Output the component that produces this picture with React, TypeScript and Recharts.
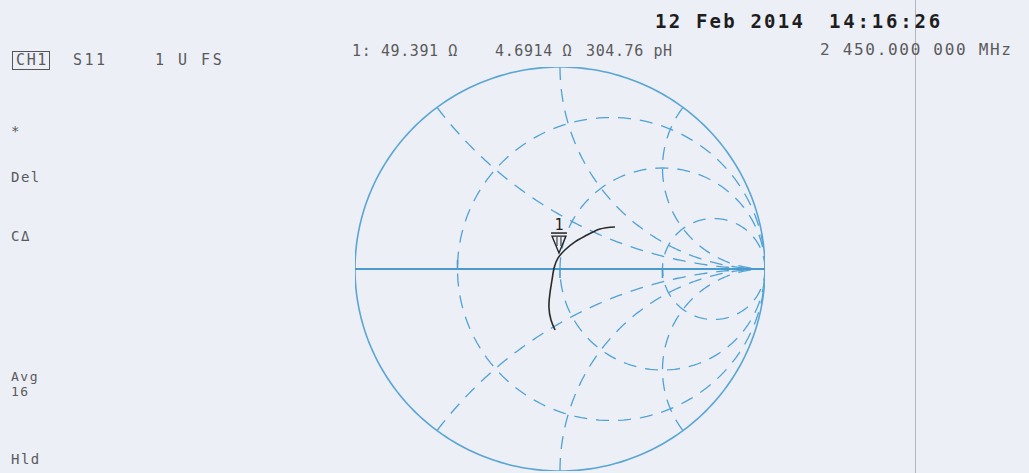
import React from 'react';
import { ComposedChart, Line, XAxis, YAxis, ReferenceLine, ReferenceDot } from 'recharts';

// Smith chart grid, normalised to 50 ohm
const resistanceCircles = [1 / 3, 1, 3];
const reactanceArcs = [0.5, 1, 2, -0.5, -1, -2];
const axisTicks = [-0.5, 0, 0.5];

// S11 trace (reflection coefficient, re / im)
const traceRe = [0.268, 0.195, 0.132, 0.073, 0.024, -0.01, -0.029, -0.039, -0.049, -0.054, -0.044, -0.024];
const traceIm = [0.208, 0.198, 0.168, 0.134, 0.094, 0.054, 0.005, -0.054, -0.119, -0.188, -0.252, -0.302];

// marker 1
const markerRe = -0.005;
const markerIm = 0.079;

// annotation texts
const channelLabels = ['CH1', 'S11', '1 U FS'];
const markerReadout = ['1: 49.391 Ω', '4.6914 Ω', '304.76 pH'];
const stamp = ['12 Feb 2014', '14:16:26'];
const centerFreq = '2 450.000 000 MHz';
const softkeys = ['*', 'Del', 'CΔ', 'Avg', '16', 'Hld'];

const GRID = '#4fa2d4';
const MONO = '"DejaVu Sans Mono", "Liberation Mono", monospace';

// points along a circle of the grid, from angle a0 to a1
function arc(cx: number, cy: number, rad: number, a0: number, a1: number, steps = 160) {
  const pts: { x: number; y: number }[] = [];
  for (let i = 0; i <= steps; i++) {
    const a = a0 + ((a1 - a0) * i) / steps;
    pts.push({ x: cx + rad * Math.cos(a), y: cy + rad * Math.sin(a) });
  }
  return pts;
}

const outerCircle = arc(0, 0, 1, 0, Math.PI * 2, 300);

const rCircles = resistanceCircles.map((r) => arc(r / (1 + r), 0, 1 / (1 + r), 0, Math.PI * 2));

const xArcs = reactanceArcs.map((x) => {
  const ax = Math.abs(x);
  let a0 = Math.atan2((ax * ax - 1) / ax, -2);
  if (a0 < 0) a0 += Math.PI * 2;
  const pts = arc(1, 1 / ax, 1 / ax, a0, Math.PI * 1.5);
  return x > 0 ? pts : pts.map((p) => ({ x: p.x, y: -p.y }));
});

const trace = traceRe.map((re, i) => ({ x: re, y: traceIm[i] }));

const MarkerShape = (props: any) => {
  const { cx, cy } = props;
  return (
    <g>
      <text x={cx} y={cy - 23} textAnchor="middle" fontSize={15} fontFamily={MONO} fill="#222">
        1
      </text>
      <line x1={cx - 8} x2={cx + 8} y1={cy - 20} y2={cy - 20} stroke="#222" strokeWidth={1.5} />
      <path d={`M${cx - 7},${cy - 17} L${cx + 7},${cy - 17} L${cx},${cy} Z`} fill="none" stroke="#222" strokeWidth={1.3} />
      <line x1={cx - 2} x2={cx - 2} y1={cy - 16} y2={cy - 7} stroke="#222" />
      <line x1={cx + 2} x2={cx + 2} y1={cy - 16} y2={cy - 7} stroke="#222" />
    </g>
  );
};

const txt = (left: number, top: number, extra: React.CSSProperties = {}): React.CSSProperties => ({
  position: 'absolute',
  left,
  top,
  fontFamily: MONO,
  fontSize: 15,
  letterSpacing: 1.6,
  color: '#5a5a5a',
  whiteSpace: 'pre',
  lineHeight: 1,
  ...extra,
});

const bold: React.CSSProperties = { fontSize: 19, fontWeight: 'bold', color: '#1e1e1e' };
const side: React.CSSProperties = { fontSize: 14, letterSpacing: 1.5 };
const readout: React.CSSProperties = { letterSpacing: 0.6 };

export default function App() {
  return (
    <div
      style={{
        position: 'absolute',
        left: 0,
        top: 0,
        width: 1029,
        height: 473,
        background: '#edeff7',
        overflow: 'hidden',
      }}
    >
      <ComposedChart width={1029} height={473} margin={{ top: 67, right: 264, bottom: 2, left: 355 }}>
        <XAxis type="number" dataKey="x" domain={[-1, 1]} hide allowDataOverflow />
        <YAxis type="number" dataKey="y" domain={[-1, 1]} hide allowDataOverflow />
        {rCircles.map((pts, i) => (
          <Line
            key={`r${i}`}
            data={pts}
            dataKey="y"
            type="linear"
            stroke={GRID}
            strokeWidth={1.3}
            strokeDasharray="13 9"
            dot={false}
            activeDot={false}
            isAnimationActive={false}
          />
        ))}
        {xArcs.map((pts, i) => (
          <Line
            key={`x${i}`}
            data={pts}
            dataKey="y"
            type="linear"
            stroke={GRID}
            strokeWidth={1.3}
            strokeDasharray="13 9"
            dot={false}
            activeDot={false}
            isAnimationActive={false}
          />
        ))}
        <Line
          data={outerCircle}
          dataKey="y"
          type="linear"
          stroke="#5aa6d3"
          strokeWidth={1.6}
          dot={false}
          activeDot={false}
          isAnimationActive={false}
        />
        <ReferenceLine
          segment={[
            { x: -1, y: 0 },
            { x: 1, y: 0 },
          ]}
          stroke="#4a9bcc"
          strokeWidth={2}
        />
        {axisTicks.map((t, i) => (
          <ReferenceLine
            key={`t${i}`}
            segment={[
              { x: t, y: 0 },
              { x: t, y: t < 0 ? 0.045 : -0.045 },
            ]}
            stroke="#4a9bcc"
            strokeWidth={1.6}
          />
        ))}
        <Line
          data={trace}
          dataKey="y"
          type="natural"
          stroke="#2a2a2a"
          strokeWidth={1.6}
          dot={false}
          activeDot={false}
          isAnimationActive={false}
        />
        <ReferenceDot x={markerRe} y={markerIm} r={0} shape={MarkerShape} />
      </ComposedChart>

      {/* scanner seam */}
      <div style={{ position: 'absolute', left: 915, top: 0, width: 1, height: 473, background: '#b3b6c1' }} />

      <div style={txt(12, 51, { border: '1.5px solid #555', padding: '1px 1px 1px 3px' })}>{channelLabels[0]}</div>
      <div style={txt(73, 53, { letterSpacing: 2.5 })}>{channelLabels[1]}</div>
      <div style={txt(155, 53, { letterSpacing: 2.5 })}>{channelLabels[2]}</div>

      <div style={txt(352, 44, readout)}>{markerReadout[0]}</div>
      <div style={txt(495, 44, readout)}>{markerReadout[1]}</div>
      <div style={txt(586, 44, readout)}>{markerReadout[2]}</div>
      <div style={txt(820, 42, { fontSize: 16, letterSpacing: 1.7 })}>{centerFreq}</div>

      <div style={txt(655, 12, { ...bold, letterSpacing: 2.2 })}>{stamp[0]}</div>
      <div style={txt(829, 12, { ...bold, letterSpacing: 2.8 })}>{stamp[1]}</div>

      <div style={txt(11, 124, side)}>{softkeys[0]}</div>
      <div style={txt(11, 170, side)}>{softkeys[1]}</div>
      <div style={txt(11, 229, side)}>{softkeys[2]}</div>
      <div style={txt(11, 370, { ...side, fontSize: 13 })}>{softkeys[3]}</div>
      <div style={txt(11, 385, { ...side, fontSize: 13 })}>{softkeys[4]}</div>
      <div style={txt(11, 452, side)}>{softkeys[5]}</div>
    </div>
  );
}
